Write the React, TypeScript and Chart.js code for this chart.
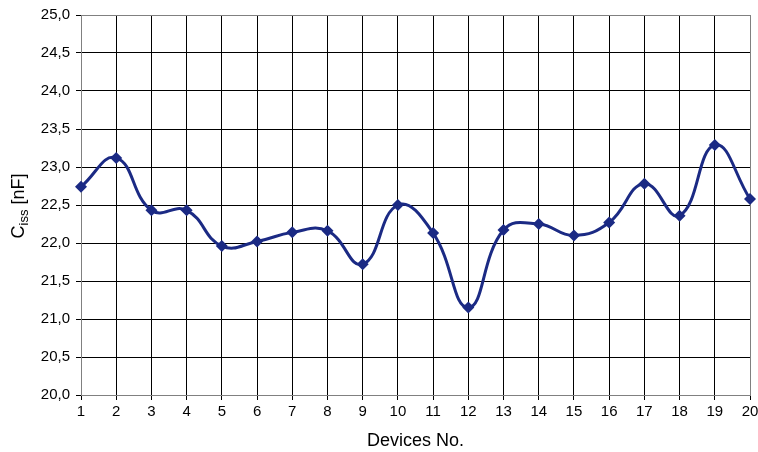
import React, { useEffect, useRef } from "react";
import { Chart, registerables } from "chart.js";
Chart.register(...registerables);

const devices = ["1","2","3","4","5","6","7","8","9","10","11","12","13","14","15","16","17","18","19","20"];
const cissValues = [22.74, 23.12, 22.43, 22.43, 21.96, 22.02, 22.14, 22.16, 21.72, 22.5, 22.13, 21.15, 22.17, 22.25, 22.1, 22.27, 22.78, 22.36, 23.29, 22.58];
const yMin = 20;
const yMax = 25;
const yStep = 0.5;
const xTitle = "Devices No.";
const yTitleMain = "C";
const yTitleSub = "iss";
const yTitleRest = " [nF]";

const FONT = "'Liberation Sans', Arial, sans-serif";

const yTitlePlugin = {
  id: "yTitleSub",
  afterDraw(chart: any) {
    const ctx = chart.ctx;
    ctx.save();
    ctx.translate(19, 206);
    ctx.rotate(-Math.PI / 2);
    ctx.fillStyle = "#000";
    ctx.textBaseline = "middle";
    const big = "18px " + FONT;
    const small = "13px " + FONT;
    ctx.font = big;
    const w1 = ctx.measureText(yTitleMain).width;
    const w3 = ctx.measureText(yTitleRest).width;
    ctx.font = small;
    const w2 = ctx.measureText(yTitleSub).width;
    const total = w1 + w2 + w3;
    let x = -total / 2;
    ctx.textAlign = "left";
    ctx.font = big;
    ctx.fillText(yTitleMain, x, 0);
    x += w1;
    ctx.font = small;
    ctx.fillText(yTitleSub, x, 5);
    x += w2;
    ctx.font = big;
    ctx.fillText(yTitleRest, x, 0);
    ctx.restore();
  },
};

export default function App() {
  const ref = useRef<HTMLCanvasElement | null>(null);
  useEffect(() => {
    document.body.style.margin = "0";
    const canvas = ref.current!;
    const chart = new Chart(canvas, {
      type: "line",
      data: {
        labels: devices,
        datasets: [
          {
            data: cissValues,
            borderColor: "#1b2a84",
            backgroundColor: "#1b2a84",
            borderWidth: 3,
            pointStyle: "rectRot",
            pointRadius: 6,
            pointBorderWidth: 0,
            tension: 0.45,
            fill: false,
          },
        ],
      },
      options: {
        responsive: false,
        animation: false,
        devicePixelRatio: 1,
        layout: { padding: { left: 0, right: 8, top: 15, bottom: 0 } },
        plugins: { legend: { display: false }, tooltip: { enabled: false } },
        scales: {
          x: {
            type: "category",
            offset: false,
            grid: {
              color: (c: any) => (c.index === devices.length - 1 ? "#808080" : "#000"),
              lineWidth: 1,
              tickLength: 5,
              tickColor: "#000",
            },
            border: { color: "#808080", width: 1 },
            ticks: {
              color: "#000",
              font: { family: FONT, size: 15 },
              maxRotation: 0,
              autoSkip: false,
              padding: 3,
            },
            title: {
              display: true,
              text: xTitle,
              color: "#000",
              font: { family: FONT, size: 18 },
              padding: { top: 3, bottom: 0 },
            },
            afterFit(scale: any) {
              scale.height = 57;
              scale.paddingLeft = 0;
              scale.paddingRight = 0;
            },
          },
          y: {
            min: yMin,
            max: yMax,
            grid: {
              color: (c: any) => (c.tick && c.tick.value === yMax ? "#808080" : "#000"),
              lineWidth: 1,
              tickLength: 5,
              tickColor: "#000",
            },
            border: { color: "#808080", width: 1 },
            ticks: {
              stepSize: yStep,
              color: "#000",
              font: { family: FONT, size: 15 },
              padding: 6,
              callback: (v: any) => Number(v).toFixed(1).replace(".", ","),
            },
            afterFit(scale: any) {
              scale.width = 81;
              scale.paddingTop = 0;
              scale.paddingBottom = 0;
            },
          },
        },
      },
      plugins: [yTitlePlugin],
    } as any);
    return () => chart.destroy();
  }, []);
  return <canvas ref={ref} width={758} height={452} style={{ display: "block" }} />;
}
